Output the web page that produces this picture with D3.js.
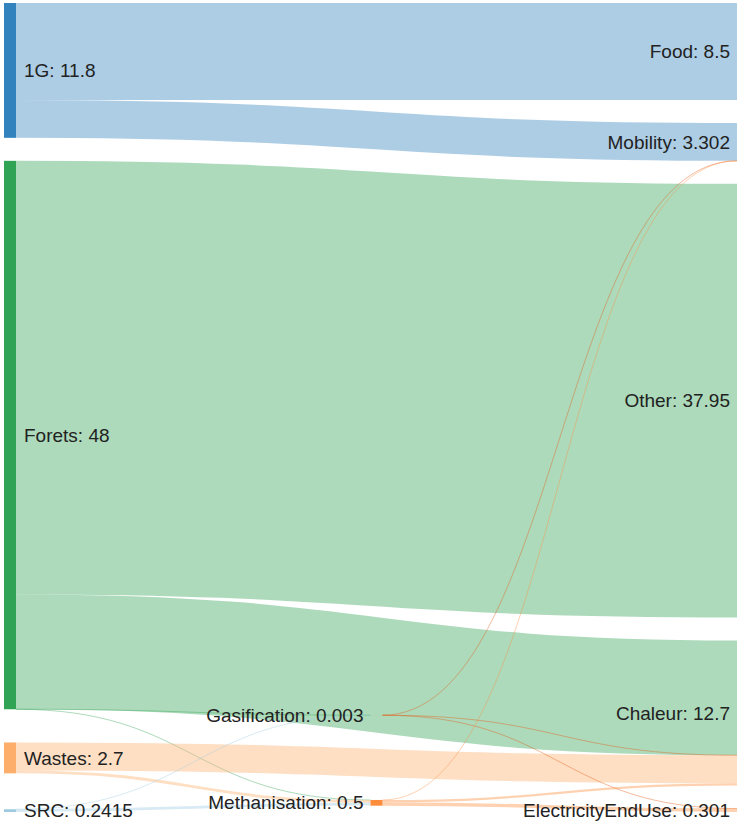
<!DOCTYPE html>
<html>
<head>
<meta charset="utf-8">
<script src="https://cdn.jsdelivr.net/npm/d3@7"></script>
<style>
  html, body { margin: 0; padding: 0; background: #fff; }
  svg { display: block; }
  text { font-family: "Liberation Sans", Arial, Helvetica, sans-serif; }
</style>
</head>
<body>
<script>
// ---------- data ----------
const nodeNames = ["1G", "Forets", "Wastes", "SRC", "Gasification", "Methanisation",
                   "Food", "Mobility", "Other", "Chaleur", "ElectricityEndUse"];
const linkSources = ["1G", "1G", "Forets", "Forets", "Forets", "Forets", "Wastes", "Wastes",
                     "SRC", "SRC", "Gasification", "Gasification", "Gasification",
                     "Methanisation", "Methanisation", "Methanisation"];
const linkTargets = ["Food", "Mobility", "Other", "Chaleur", "Gasification", "Methanisation",
                     "Chaleur", "Methanisation", "Gasification", "Methanisation",
                     "Mobility", "Chaleur", "ElectricityEndUse",
                     "Mobility", "Chaleur", "ElectricityEndUse"];
const linkValues = [8.5, 3.3, 37.95, 10.048, 0.001, 0.001, 2.452, 0.248,
                    0.002, 0.2395, 0.001, 0.001, 0.001, 0.001, 0.199, 0.3];

// ---------- style ----------
const nodeColor = {
  "1G": "#3182bd", "Forets": "#31a354", "Wastes": "#fdae6b", "SRC": "#9ecae1",
  "Gasification": "#e6550d", "Methanisation": "#fd8d3c",
  "Food": "#3182bd", "Mobility": "#6baed6", "Other": "#74c476",
  "Chaleur": "#a1d99b", "ElectricityEndUse": "#fdd0a2"
};
const W = 737, H = 829;
const ext = [[4, 3], [749, 812]];
const nodeWidth = 12, nodePadding = 23, iterations = 8;

// ---------- sankey layout (port of the d3-sankey algorithm) ----------
function sankeyLayout(nodes, links) {
  const [[x0, y0], [x1, y1]] = ext;
  const byName = new Map(nodes.map(n => [n.name, n]));
  nodes.forEach((n, i) => { n.index = i; n.sourceLinks = []; n.targetLinks = []; });
  links.forEach((l, i) => {
    l.index = i;
    l.source = byName.get(l.source); l.target = byName.get(l.target);
    l.source.sourceLinks.push(l); l.target.targetLinks.push(l);
  });
  nodes.forEach(n => {
    n.value = Math.max(d3.sum(n.sourceLinks, d => d.value), d3.sum(n.targetLinks, d => d.value));
  });
  let current = new Set(nodes), next = new Set, x = 0;
  while (current.size) {
    for (const n of current) { n.depth = x; for (const {target} of n.sourceLinks) next.add(target); }
    x++; current = next; next = new Set;
  }
  const nCols = d3.max(nodes, d => d.depth) + 1;
  const xScale = d3.scaleLinear().domain([0, nCols - 1]).range([x0, x1 - nodeWidth]);
  const columns = Array.from({length: nCols}, () => []);
  for (const n of nodes) {
    const i = n.sourceLinks.length ? n.depth : nCols - 1;   // justify
    n.layer = i; n.x0 = xScale(i); n.x1 = n.x0 + nodeWidth;
    columns[i].push(n);
  }
  const py = Math.min(nodePadding, (y1 - y0) / (d3.max(columns, c => c.length) - 1));
  const ascBreadth = (a, b) => a.y0 - b.y0;
  const ascSource = (a, b) => ascBreadth(a.source, b.source) || a.index - b.index;
  const ascTarget = (a, b) => ascBreadth(a.target, b.target) || a.index - b.index;
  function reorderLinks(ns) { for (const {sourceLinks, targetLinks} of ns) { sourceLinks.sort(ascTarget); targetLinks.sort(ascSource); } }
  function reorderNodeLinks({sourceLinks, targetLinks}) {
    for (const {source: {sourceLinks: s}} of targetLinks) s.sort(ascTarget);
    for (const {target: {targetLinks: t}} of sourceLinks) t.sort(ascSource);
  }
  const ky = d3.min(columns, c => (y1 - y0 - (c.length - 1) * py) / d3.sum(c, d => d.value));
  const yScale = d3.scaleLinear().domain([0, 1]).range([0, ky]);
  for (const col of columns) {
    let y = y0;
    for (const n of col) {
      n.y0 = y; n.y1 = y + yScale(n.value); y = n.y1 + py;
      for (const l of n.sourceLinks) l.width = yScale(l.value);
    }
    y = (y1 - y + py) / (col.length + 1);
    col.forEach((n, i) => { n.y0 += y * (i + 1); n.y1 += y * (i + 1); });
    reorderLinks(col);
  }
  function targetTop(source, target) {
    let y = source.y0 - (source.sourceLinks.length - 1) * py / 2;
    for (const {target: n, width} of source.sourceLinks) { if (n === target) break; y += width + py; }
    for (const {source: n, width} of target.targetLinks) { if (n === source) break; y -= width; }
    return y;
  }
  function sourceTop(source, target) {
    let y = target.y0 - (target.targetLinks.length - 1) * py / 2;
    for (const {source: n, width} of target.targetLinks) { if (n === source) break; y += width + py; }
    for (const {target: n, width} of source.sourceLinks) { if (n === target) break; y -= width; }
    return y;
  }
  function resolveTB(ns, y, i, a) {
    for (; i < ns.length; ++i) { const n = ns[i]; const d = (y - n.y0) * a; if (d > 1e-6) { n.y0 += d; n.y1 += d; } y = n.y1 + py; }
  }
  function resolveBT(ns, y, i, a) {
    for (; i >= 0; --i) { const n = ns[i]; const d = (n.y1 - y) * a; if (d > 1e-6) { n.y0 -= d; n.y1 -= d; } y = n.y0 - py; }
  }
  function resolveCollisions(ns, a) {
    const i = ns.length >> 1, s = ns[i];
    resolveBT(ns, s.y0 - py, i - 1, a);
    resolveTB(ns, s.y1 + py, i + 1, a);
    resolveBT(ns, y1, ns.length - 1, a);
    resolveTB(ns, y0, 0, a);
  }
  function relaxLR(alpha, beta) {
    for (let i = 1; i < columns.length; ++i) {
      const col = columns[i];
      for (const t of col) {
        let y = 0, w = 0;
        for (const {source, value} of t.targetLinks) { const v = value * (t.layer - source.layer); y += targetTop(source, t) * v; w += v; }
        if (!(w > 0)) continue;
        const d = (y / w - t.y0) * alpha; t.y0 += d; t.y1 += d; reorderNodeLinks(t);
      }
      col.sort(ascBreadth); resolveCollisions(col, beta);
    }
  }
  function relaxRL(alpha, beta) {
    for (let i = columns.length - 2; i >= 0; --i) {
      const col = columns[i];
      for (const s of col) {
        let y = 0, w = 0;
        for (const {target, value} of s.sourceLinks) { const v = value * (target.layer - s.layer); y += sourceTop(s, target) * v; w += v; }
        if (!(w > 0)) continue;
        const d = (y / w - s.y0) * alpha; s.y0 += d; s.y1 += d; reorderNodeLinks(s);
      }
      col.sort(ascBreadth); resolveCollisions(col, beta);
    }
  }
  for (let i = 0; i < iterations; ++i) {
    const alpha = Math.pow(0.99, i), beta = Math.max(1 - alpha, (i + 1) / iterations);
    relaxRL(alpha, beta); relaxLR(alpha, beta);
  }
  for (const n of nodes) {
    let a = n.y0, b = n.y0;
    for (const l of n.sourceLinks) { l.y0 = a + l.width / 2; a += l.width; }
    for (const l of n.targetLinks) { l.y1 = b + l.width / 2; b += l.width; }
  }
  return {nodes, links};
}

const graph = sankeyLayout(
  nodeNames.map(name => ({name})),
  linkSources.map((s, i) => ({source: s, target: linkTargets[i], value: linkValues[i]}))
);

// ---------- draw ----------
const svg = d3.select("body").append("svg").attr("width", W).attr("height", H);

const linkPath = d3.linkHorizontal()
  .source(d => [d.source.x1, d.y0])
  .target(d => [d.target.x0, d.y1]);

svg.append("g").attr("fill", "none")
  .selectAll("path").data(graph.links).join("path")
  .attr("d", linkPath)
  .attr("stroke", d => nodeColor[d.source.name])
  .attr("stroke-opacity", 0.4)
  .attr("stroke-width", d => Math.max(1, d.width));

svg.append("g").selectAll("rect").data(graph.nodes).join("rect")
  .attr("x", d => d.x0).attr("y", d => d.y0)
  .attr("width", d => d.x1 - d.x0).attr("height", d => Math.max(0, d.y1 - d.y0))
  .attr("fill", d => nodeColor[d.name]);

const fmt = v => String(+v.toFixed(4));
svg.append("g").selectAll("text").data(graph.nodes).join("text")
  .attr("x", d => d.x0 < W / 2 ? d.x1 + 8 : d.x0 - 7)
  .attr("y", d => (d.y0 + d.y1) / 2)
  .attr("dy", "0.35em")
  .attr("text-anchor", d => d.x0 < W / 2 ? "start" : "end")
  .attr("font-size", 19)
  .attr("fill", "#222")
  .text(d => `${d.name}: ${fmt(d.value)}`);
</script>
</body>
</html>
